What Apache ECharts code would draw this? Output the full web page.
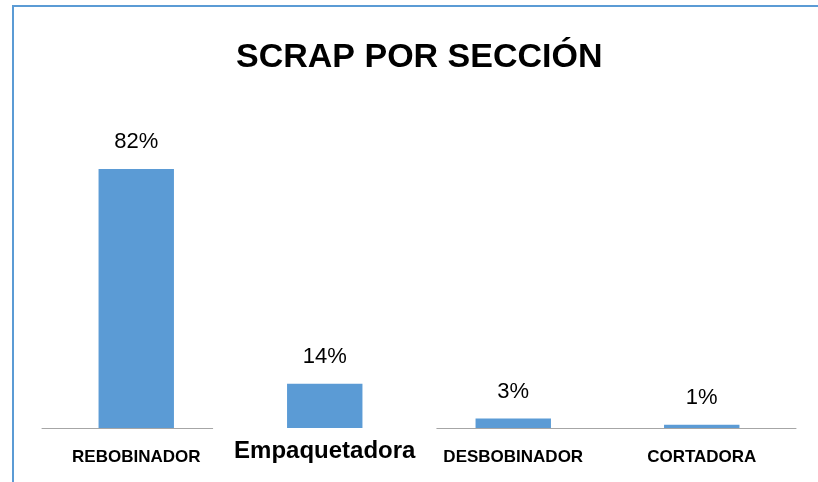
<!DOCTYPE html>
<html>
<head>
<meta charset="utf-8">
<script src="https://cdn.jsdelivr.net/npm/echarts@6/dist/echarts.min.js"></script>
<style>
  html, body { margin: 0; padding: 0; background: #fff; }
  #chart { width: 818px; height: 482px; }
</style>
</head>
<body>
<div id="chart"></div>
<script>
// datos del gráfico
const categories = ['REBOBINADOR', 'Empaquetadora', 'DESBOBINADOR', 'CORTADORA']
const scrapPct = [82, 14, 3, 1]

const sans = '"Liberation Sans", Arial, sans-serif'
const chart = echarts.init(document.getElementById('chart'))

chart.setOption({
  backgroundColor: '#fff',
  animation: false,
  title: {
    text: 'SCRAP POR SECCIÓN',
    left: 236,
    top: 41,
    padding: 0,
    textStyle: { fontFamily: sans, fontWeight: 'bold', fontSize: 34, color: '#000' }
  },
  grid: { left: 42, right: 22, top: 112, bottom: 54 },
  xAxis: {
    type: 'category',
    data: categories,
    axisLine: { lineStyle: { color: '#a6a6a6', width: 1 } },
    axisTick: { show: false },
    axisLabel: {
      interval: 0,
      margin: -1,
      formatter: v => v === 'Empaquetadora' ? '{e|' + v + '}' : '{n|' + v + '}',
      rich: {
        n: { fontFamily: sans, fontWeight: 'bold', fontSize: 17, lineHeight: 17, color: '#000', padding: [43, 0, 0, 0] },
        e: { fontFamily: sans, fontWeight: 'bold', fontSize: 24, lineHeight: 24, color: '#000', backgroundColor: '#fff', padding: [35, 21, 10, 21] }
      }
    }
  },
  yAxis: { type: 'value', min: 0, max: 100, show: false },
  series: [{
    type: 'bar',
    data: scrapPct,
    barWidth: '40%',
    itemStyle: { color: '#5b9bd5' },
    label: {
      show: true,
      position: 'top',
      distance: 16,
      formatter: '{c}%',
      fontFamily: sans,
      fontSize: 22,
      color: '#000'
    }
  }],
  graphic: [
    { type: 'line', shape: { x1: 13, y1: 6, x2: 818, y2: 6 }, style: { stroke: '#5b9bd5', lineWidth: 2 } },
    { type: 'line', shape: { x1: 13, y1: 5, x2: 13, y2: 482 }, style: { stroke: '#5b9bd5', lineWidth: 2 } }
  ]
})
</script>
</body>
</html>
